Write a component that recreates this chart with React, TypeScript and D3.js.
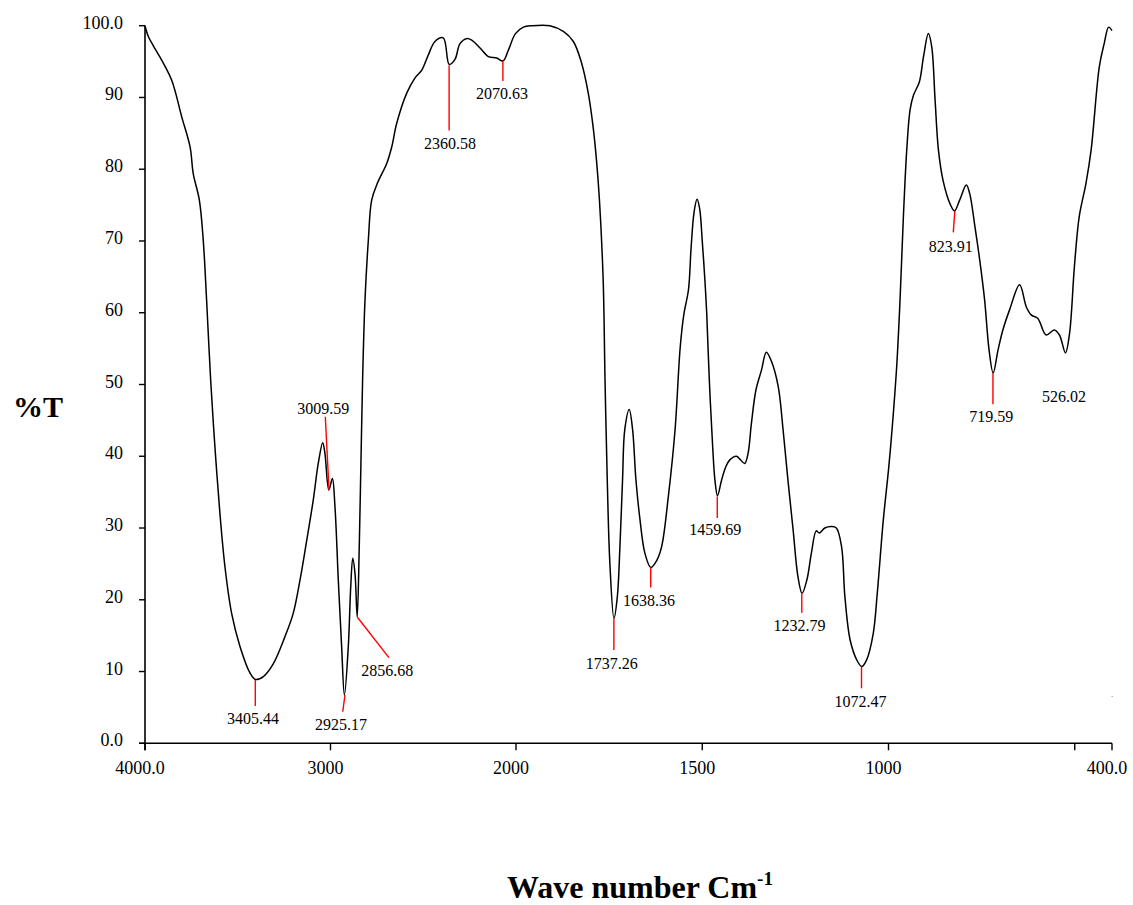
import React from "react";
import * as d3 from "d3";

const wavenumbers = [
  4000, 3982, 3955, 3910, 3856, 3802, 3757, 3740, 3707, 3686, 3668, 3646, 3623, 3596, 3569, 3533, 3488, 3434, 3405,
  3362, 3308, 3245, 3201, 3164, 3128, 3093, 3066, 3042, 3030, 3009, 2990, 2976, 2958, 2940, 2925, 2904, 2891, 2880,
  2868, 2856, 2845, 2836, 2827, 2814, 2796, 2778, 2748, 2697, 2670, 2643, 2589, 2545, 2508, 2473, 2437, 2392, 2360,
  2329, 2302, 2266, 2239, 2194, 2149, 2104, 2070, 2041, 2003, 1980, 1958, 1909, 1873, 1846, 1824, 1806, 1793, 1784,
  1776, 1766, 1761, 1755, 1748, 1737, 1728, 1721, 1714, 1708, 1696, 1687, 1678, 1667, 1654, 1638, 1622, 1609, 1591,
  1573, 1559, 1549, 1537, 1530, 1522, 1514, 1507, 1500, 1493, 1488, 1481, 1472, 1466, 1459, 1448, 1437, 1426, 1408,
  1399, 1386, 1377, 1368, 1356, 1341, 1328, 1314, 1296, 1283, 1270, 1256, 1243, 1232, 1219, 1207, 1194, 1186, 1171,
  1153, 1140, 1126, 1117, 1103, 1085, 1072, 1059, 1041, 1030, 1014, 1000, 990, 978, 969, 960, 951, 942, 933, 917,
  906, 893, 884, 875, 866, 853, 835, 823, 809, 791, 782, 768, 755, 742, 730, 719, 706, 693, 675, 648, 630, 617, 599,
  577, 555, 541, 525, 514, 501, 488, 470, 456, 434, 421, 409, 400,
];

const transmittance = [
  100, 98.5, 97.2, 95.2, 92.4, 87.3, 83.1, 79.4, 75.7, 70.1, 61.8, 50.6, 41.3, 32.0, 24.6, 18.1, 13.5, 9.8, 8.9,
  9.3, 11.1, 14.9, 18.1, 22.8, 28.3, 33.9, 39.0, 41.9, 40.4, 35.3, 36.9, 33.0, 22.8, 13.5, 6.7, 13.5, 21.8, 25.8,
  23.7, 17.6, 27.4, 39.0, 50.6, 61.8, 70.1, 75.7, 78.0, 80.8, 83.1, 86.4, 90.6, 92.7, 93.8, 95.9, 97.8, 98.3, 94.6,
  95.3, 97.5, 98.2, 98.0, 96.9, 95.7, 95.5, 95.1, 96.6, 98.9, 99.8, 100, 100, 99.2, 97.8, 94.8, 90.6, 85.9, 81.3,
  75.7, 64.6, 50.6, 36.7, 25.1, 17.4, 20.4, 27.4, 36.7, 43.7, 46.5, 43.7, 36.7, 31.1, 26.5, 24.5, 25.5, 27.4, 34.4,
  43.7, 55.3, 59.9, 63.2, 69.0, 74.0, 75.8, 74.5, 70.0, 64.6, 59.9, 50.6, 41.3, 36.7, 34.5, 36.7, 38.5, 39.5, 40.0,
  39.6, 39.0, 40.4, 44.6, 49.2, 52.0, 54.5, 53.2, 49.7, 43.7, 36.7, 29.7, 23.2, 20.9, 22.8, 26.5, 29.6, 29.3, 30.0,
  30.2, 30.0, 27.4, 20.4, 14.4, 11.6, 10.7, 11.6, 15.3, 21.0, 31.1, 38.1, 44.0, 52.5, 61.8, 73.4, 82.7, 88.3, 90.3, 92.2,
  95.7, 98.9, 97.1, 89.7, 82.7, 78.3, 75.2, 74.2, 75.7, 77.8, 76.6, 72.0, 67.3, 61.8, 54.8, 51.6, 54.8, 57.6, 60.4, 63.9,
  60.8, 59.7, 59.2, 56.9, 57.6, 56.9, 54.4, 57.1, 66.4, 73.4, 78.0, 82.7, 94.3, 97.5, 99.8, 99.3,
];

const yTicks = [0, 10, 20, 30, 40, 50, 60, 70, 80, 90, 100];
const yTickLabels = ["0.0", "10", "20", "30", "40", "50", "60", "70", "80", "90", "100.0"];
const xTicks = [4000, 3000, 2000, 1500, 1000, 500, 400];
const xTickLabels = ["4000.0", "3000", "2000", "1500", "1000", "", "400.0"];

// peak annotations: label, line start (wn, T), line end (wn, T), label anchor (wn, T)
const peakLabels = ["3405.44", "3009.59", "2925.17", "2856.68", "2360.58", "2070.63", "1737.26", "1638.36", "1459.69", "1232.79", "1072.47", "823.91", "719.59", "526.02"];
const lineStartWn = [3405.44, 3008, 2922, 2855, 2360.58, 2070.63, 1737.26, 1638.36, 1459.69, 1232.79, 1072.47, 822, 719.59, NaN];
const lineStartT = [8.82, 35.3, 6.73, 17.56, 94.5, 95.1, 17.4, 24.5, 34.4, 20.9, 10.67, 74.2, 51.56, NaN];
const lineEndWn = [3405.44, 3028, 2934, 2685, 2360.58, 2070.63, 1737.26, 1638.36, 1459.69, 1232.79, 1072.47, 826, 719.59, NaN];
const lineEndT = [5.2, 45.5, 4.4, 11.93, 85.4, 92.3, 13.0, 21.7, 31.4, 18.2, 7.66, 71.2, 47.24, NaN];
const labelWn = [3418, 3039, 2943, 2694, 2356, 2075, 1743, 1643, 1465, 1239, 1075, 833, 724, 529];
const labelT = [2.62, 45.9, 1.85, 9.38, 82.8, 89.8, 10.35, 19.2, 28.96, 15.65, 5.06, 68.5, 44.8, 47.6];

export default function App() {
  const W = 1133;
  const H = 905;
  const x = d3.scaleLinear().domain([4000, 2000, 400]).range([145, 516, 1112]);
  const y = d3.scaleLinear().domain([0, 100]).range([743.3, 25.7]);

  const pts = wavenumbers.map((w, i) => [w, transmittance[i]] as [number, number]);
  const line = d3
    .line<[number, number]>()
    .x((d) => x(d[0]))
    .y((d) => y(d[1]))
    .curve(d3.curveCatmullRom.alpha(0.5));

  const font = "'Liberation Serif', 'Times New Roman', serif";
  const y0 = y(0);

  return (
    <svg
      width={W}
      height={H}
      viewBox={`0 0 ${W} ${H}`}
      style={{ position: "absolute", left: 0, top: 0, background: "#fff" }}
      fontFamily={font}
    >
      <rect x={0} y={0} width={W} height={H} fill="#fff" />
      {/* axes */}
      <line x1={139} x2={x(400)} y1={y0} y2={y0} stroke="#000" strokeWidth={1.6} />
      <line x1={x(4000)} x2={x(4000)} y1={y(100)} y2={y0 + 7} stroke="#000" strokeWidth={1.6} />
      {yTicks.map((t, i) => (
        <g key={"y" + t}>
          <line x1={139} x2={145} y1={y(t)} y2={y(t)} stroke="#000" strokeWidth={1.4} />
          <text x={123} y={y(t) + 3} fontSize={18} textAnchor="end" fill="#000">
            {yTickLabels[i]}
          </text>
        </g>
      ))}
      {xTicks.map((t, i) => (
        <g key={"x" + t}>
          <line x1={x(t)} x2={x(t)} y1={y0} y2={y0 + 7} stroke="#000" strokeWidth={1.4} />
          <text x={x(t) - 5} y={774} fontSize={18} textAnchor="middle" fill="#000">
            {xTickLabels[i]}
          </text>
        </g>
      ))}

      {/* spectrum */}
      <path d={line(pts) || ""} fill="none" stroke="#000" strokeWidth={1.5} strokeLinejoin="round" />

      {/* peak annotations */}
      {peakLabels.map((lab, i) => (
        <g key={lab}>
          {!isNaN(lineStartWn[i]) && (
            <line
              x1={x(lineStartWn[i])}
              y1={y(lineStartT[i])}
              x2={x(lineEndWn[i])}
              y2={y(lineEndT[i])}
              stroke="#ff0000"
              strokeWidth={1.4}
            />
          )}
          <text x={x(labelWn[i])} y={y(labelT[i])} fontSize={16} textAnchor="middle" fill="#000">
            {lab}
          </text>
        </g>
      ))}

      <text x={1112} y={697} fontSize={9} fill="#555" textAnchor="middle">.</text>

      {/* axis titles */}
      <text x={13} y={417} fontSize={30} fontWeight="bold" fill="#000">
        %T
      </text>
      <text x={507} y={898} fontSize={32} fontWeight="bold" fill="#000">
        Wave number Cm
        <tspan fontSize={19} dy={-13}>
          -1
        </tspan>
      </text>
    </svg>
  );
}
